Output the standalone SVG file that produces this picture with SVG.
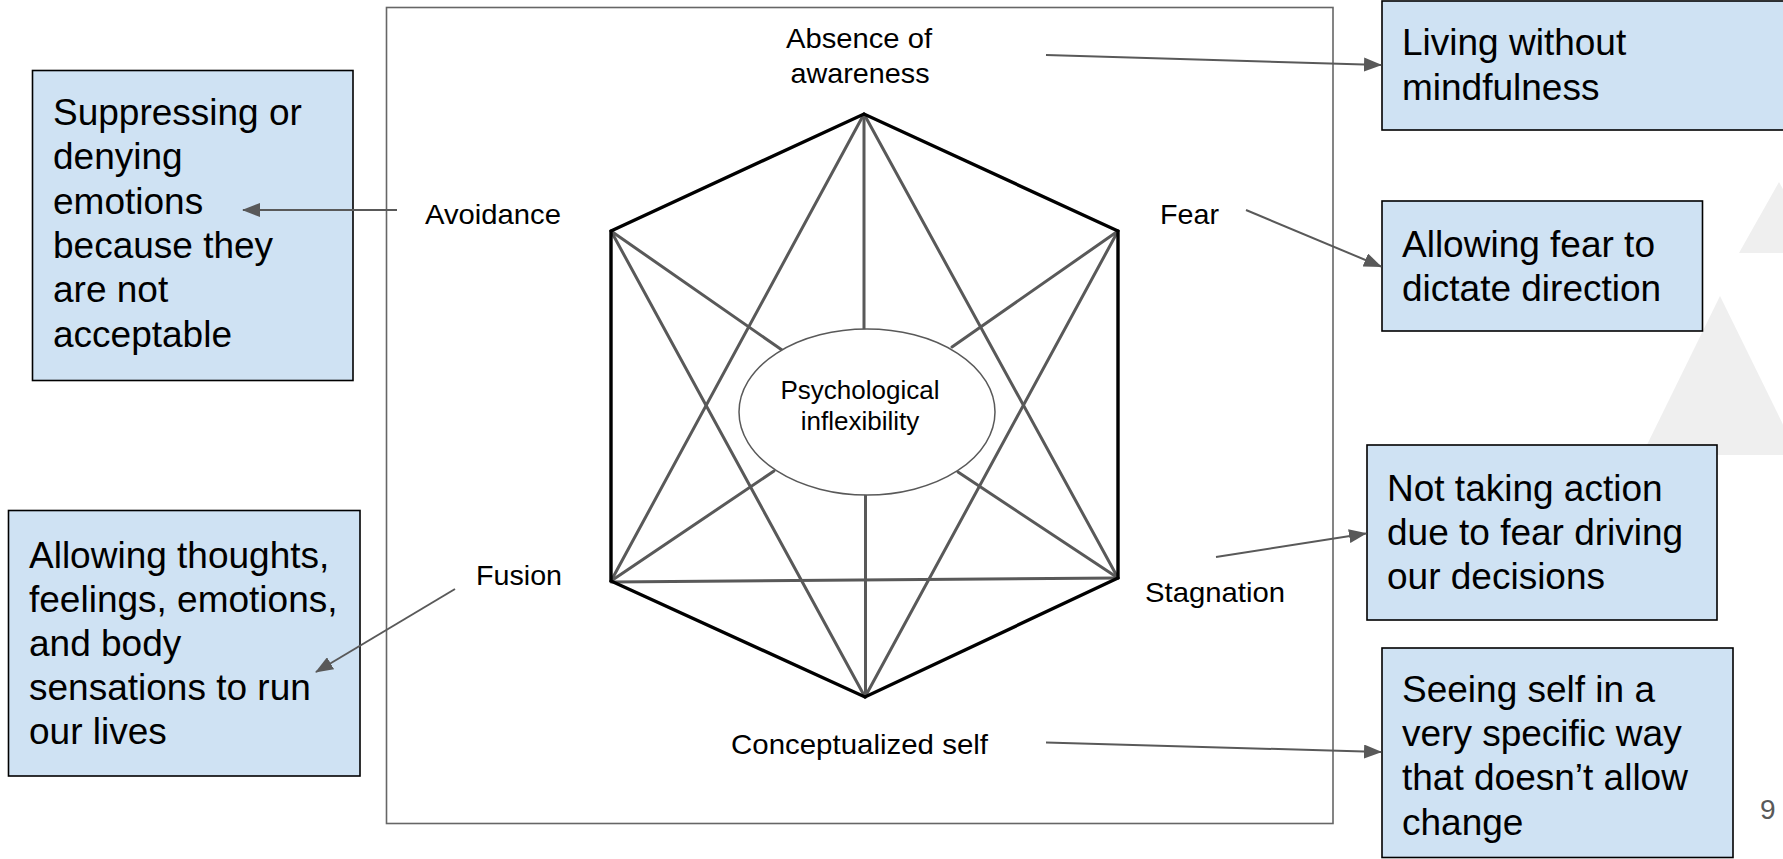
<svg xmlns="http://www.w3.org/2000/svg" width="1783" height="859" viewBox="0 0 1783 859">
<defs>
<style>
.lbl{font-family:"Liberation Sans",Arial,sans-serif;font-size:28px;fill:#000}
.inner{font-family:"Liberation Sans",Arial,sans-serif;font-size:26px;fill:#000;text-anchor:middle}
.ctr{text-anchor:middle}
.box{fill:#cfe2f3;stroke:#000;stroke-width:1.6}
.bt{font-family:"Liberation Sans",Arial,sans-serif;font-size:37px;fill:#000}
.edge{stroke:#000;stroke-width:3.4;fill:none;stroke-linecap:round}
.spoke{stroke:#595959;stroke-width:3;fill:none;stroke-linecap:round}
.arr{stroke:#595959;stroke-width:2;fill:none}
.tri{fill:#efefef}
</style>
<marker id="ah" markerUnits="userSpaceOnUse" markerWidth="18" markerHeight="14" refX="17" refY="7" orient="auto">
<path d="M0,0 L18,7 L0,14 z" fill="#595959"/>
</marker>
</defs>
<rect width="1783" height="859" fill="#fff"/>
<g id="background">
<polygon class="tri" points="1779,182 1818,253 1739,253"/>
<polygon class="tri" points="1720,296 1798,455 1642,455"/>
</g>
<g id="frame">
<rect x="386.5" y="7.5" width="946.5" height="816" fill="none" stroke="#666" stroke-width="1.6"/>
</g>
<g id="hexagon">
<line class="spoke" x1="864" y1="114" x2="611" y2="581"/>
<line class="spoke" x1="864" y1="114" x2="1118" y2="578"/>
<line class="spoke" x1="865" y1="697" x2="611" y2="231"/>
<line class="spoke" x1="865" y1="697" x2="1118" y2="231"/>
<line class="spoke" x1="611" y1="582" x2="1118" y2="578"/>
<line class="spoke" x1="864" y1="114" x2="864" y2="330"/>
<line class="spoke" x1="865.5" y1="494" x2="865.5" y2="697"/>
<line class="spoke" x1="611" y1="231" x2="782" y2="350"/>
<line class="spoke" x1="1118" y1="231" x2="952" y2="347"/>
<line class="spoke" x1="611" y1="581" x2="774" y2="471"/>
<line class="spoke" x1="1118" y1="578" x2="958" y2="472"/>
<path class="edge" d="M611,231 L864,114 L1118,231 L1118,578 L865,697 L611,581 Z" stroke-linejoin="miter"/>
</g>
<g id="center">
<ellipse cx="867" cy="412" rx="128" ry="83" fill="#fff" stroke="#595959" stroke-width="1.5"/>
<text class="inner" x="860" y="399">Psychological</text>
<text class="inner" x="860" y="430">inflexibility</text>
</g>
<g id="label-absence">
<text class="lbl ctr" x="859" y="48" textLength="146" lengthAdjust="spacingAndGlyphs">Absence of</text>
<text class="lbl ctr" x="860" y="83" textLength="139" lengthAdjust="spacingAndGlyphs">awareness</text>
</g>
<g id="label-avoidance"><text class="lbl" x="425" y="224" textLength="136" lengthAdjust="spacingAndGlyphs">Avoidance</text></g>
<g id="label-fear"><text class="lbl" x="1160" y="224" textLength="59" lengthAdjust="spacingAndGlyphs">Fear</text></g>
<g id="label-fusion"><text class="lbl" x="476" y="585" textLength="86" lengthAdjust="spacingAndGlyphs">Fusion</text></g>
<g id="label-stagnation"><text class="lbl" x="1145" y="602" textLength="140" lengthAdjust="spacingAndGlyphs">Stagnation</text></g>
<g id="label-self"><text class="lbl" x="731" y="754" textLength="257" lengthAdjust="spacingAndGlyphs">Conceptualized self</text></g>
<g id="box-suppressing">
<rect class="box" x="32.5" y="70.5" width="320.5" height="310"/>
<text class="bt" x="53" y="125">Suppressing or</text>
<text class="bt" x="53" y="169.3">denying</text>
<text class="bt" x="53" y="213.6">emotions</text>
<text class="bt" x="53" y="257.9">because they</text>
<text class="bt" x="53" y="302.2">are not</text>
<text class="bt" x="53" y="346.5">acceptable</text>
</g>
<g id="box-allowing-thoughts">
<rect class="box" x="8.5" y="510.5" width="351.5" height="265.5"/>
<text class="bt" x="29" y="568">Allowing thoughts,</text>
<text class="bt" x="29" y="612">feelings, emotions,</text>
<text class="bt" x="29" y="656">and body</text>
<text class="bt" x="29" y="700">sensations to run</text>
<text class="bt" x="29" y="744">our lives</text>
</g>
<g id="box-living">
<rect class="box" x="1382" y="1" width="420" height="129"/>
<text class="bt" x="1402" y="55">Living without</text>
<text class="bt" x="1402" y="100">mindfulness</text>
</g>
<g id="box-fear">
<rect class="box" x="1382" y="201" width="320.5" height="130"/>
<text class="bt" x="1402" y="256.5">Allowing fear to</text>
<text class="bt" x="1402" y="301">dictate direction</text>
</g>
<g id="box-not-taking">
<rect class="box" x="1367" y="445" width="350" height="175"/>
<text class="bt" x="1387" y="500.7">Not taking action</text>
<text class="bt" x="1387" y="545">due to fear driving</text>
<text class="bt" x="1387" y="589.3">our decisions</text>
</g>
<g id="box-seeing">
<rect class="box" x="1382" y="648" width="351" height="209.5"/>
<text class="bt" x="1402" y="701.7">Seeing self in a</text>
<text class="bt" x="1402" y="746">very specific way</text>
<text class="bt" x="1402" y="790.3">that doesn’t allow</text>
<text class="bt" x="1402" y="834.7">change</text>
</g>
<g id="connectors">
<line class="arr" x1="1046" y1="55" x2="1381" y2="65" marker-end="url(#ah)"/>
<line class="arr" x1="1246" y1="210" x2="1381" y2="266.5" marker-end="url(#ah)"/>
<line class="arr" x1="1216" y1="557" x2="1366" y2="533.5" marker-end="url(#ah)"/>
<line class="arr" x1="1046" y1="742.5" x2="1381" y2="752" marker-end="url(#ah)"/>
<line class="arr" x1="397" y1="210" x2="243" y2="210" marker-end="url(#ah)"/>
<line class="arr" x1="455" y1="589" x2="316" y2="672" marker-end="url(#ah)"/>
</g>
<g id="page-number"><text x="1760" y="819" font-family="Liberation Sans, Arial, sans-serif" font-size="28" fill="#595959">9</text></g>
</svg>
